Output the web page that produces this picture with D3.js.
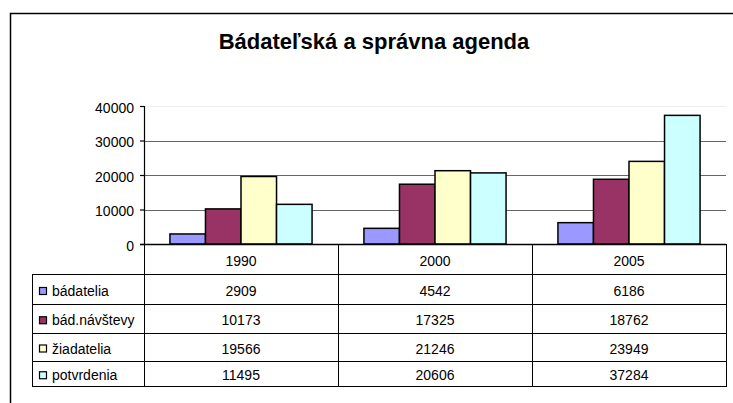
<!DOCTYPE html>
<html>
<head>
<meta charset="utf-8">
<script src="https://cdn.jsdelivr.net/npm/d3@7"></script>
<style>
  body { margin: 0; background: #fff; }
  svg { display: block; font-family: "Liberation Sans", Arial, sans-serif; }
</style>
</head>
<body>
<svg id="chart" width="733" height="403"></svg>
<script>
// chart data
const years = ["1990", "2000", "2005"];
const seriesNames = ["bádatelia", "bád.návštevy", "žiadatelia", "potvrdenia"];
const badatelia = [2909, 4542, 6186];
const badNavstevy = [10173, 17325, 18762];
const ziadatelia = [19566, 21246, 23949];
const potvrdenia = [11495, 20606, 37284];
const yTicks = [0, 10000, 20000, 30000, 40000];

const seriesValues = [badatelia, badNavstevy, ziadatelia, potvrdenia];
const colors = ["#9999ff", "#993366", "#ffffcc", "#ccffff"];

const svg = d3.select("#chart");

// outer chart frame (right and bottom edges fall outside the picture)
svg.append("rect")
  .attr("x", 10.5).attr("y", 13.5)
  .attr("width", 800).attr("height", 500)
  .attr("fill", "#fff")
  .attr("stroke", "#000").attr("stroke-width", 1.5);

svg.append("text")
  .attr("x", 374).attr("y", 49)
  .attr("text-anchor", "middle")
  .attr("font-size", 22).attr("font-weight", "bold")
  .text("Bádateľská a správna agenda");

const plotLeft = 144, plotRight = 726, plotTop = 106, plotBottom = 244;

const y = d3.scaleLinear().domain([0, 40000]).range([plotBottom, plotTop]);
const x0 = d3.scaleBand().domain(years).range([plotLeft, plotRight]);
const x1 = d3.scaleBand().domain(d3.range(seriesNames.length))
  .range([0, x0.bandwidth()]).paddingInner(0).paddingOuter(0.73);

// gridlines
svg.append("g").selectAll("line")
  .data(yTicks.filter(d => d > 0))
  .join("line")
  .attr("x1", plotLeft).attr("x2", plotRight)
  .attr("y1", d => Math.round(y(d)) + 0.5).attr("y2", d => Math.round(y(d)) + 0.5)
  .attr("stroke", d => d === 40000 ? "#eeeeee" : "#666")
  .attr("stroke-width", 1.2);

// y axis
const yAxis = svg.append("g")
  .attr("transform", `translate(${plotLeft},0)`)
  .call(d3.axisLeft(y).tickValues(yTicks).tickSize(4).tickPadding(6).tickFormat(d3.format("d")));
yAxis.select(".domain").attr("stroke", "#000").attr("stroke-width", 1.2);
yAxis.selectAll(".tick line").attr("stroke", "#000").attr("stroke-width", 1.2);
yAxis.selectAll(".tick text")
  .attr("font-size", 14).attr("font-family", "Liberation Sans, Arial, sans-serif")
  .attr("fill", "#000").attr("dy", "0.43em");

// bars
const groups = svg.append("g").selectAll("g")
  .data(seriesNames)
  .join("g")
  .attr("fill", (d, i) => colors[i]);

groups.selectAll("rect")
  .data((d, i) => years.map((yr, j) => ({ yr, s: i, v: seriesValues[i][j] })))
  .join("rect")
  .attr("x", d => x0(d.yr) + x1(d.s))
  .attr("y", d => y(d.v))
  .attr("width", x1.bandwidth())
  .attr("height", d => y(0) - y(d.v))
  .attr("stroke", "#000").attr("stroke-width", 1.5);

// data table
const rowEdges = [244, 274, 304, 332.5, 360.5, 386];
const tableLeft = 32;
const t = svg.append("g").attr("stroke", "#000").attr("stroke-width", 1);

// horizontal rules
t.selectAll("line.h")
  .data(rowEdges.slice(1))
  .join("line")
  .attr("class", "h")
  .attr("x1", tableLeft).attr("x2", plotRight)
  .attr("y1", d => Math.round(d) + 0.5).attr("y2", d => Math.round(d) + 0.5);

// vertical rules
const vLines = years.map(d => x0(d)).concat([plotRight]);
t.selectAll("line.v")
  .data(vLines)
  .join("line")
  .attr("class", "v")
  .attr("x1", d => Math.round(d) + 0.5).attr("x2", d => Math.round(d) + 0.5)
  .attr("y1", plotBottom).attr("y2", 387);
t.append("line")
  .attr("x1", tableLeft + 0.5).attr("x2", tableLeft + 0.5)
  .attr("y1", 274).attr("y2", 387);

// x axis line
svg.append("line")
  .attr("x1", plotLeft - 4).attr("x2", plotRight)
  .attr("y1", plotBottom + 0.5).attr("y2", plotBottom + 0.5)
  .attr("stroke", "#000").attr("stroke-width", 1.5);

const rowBase = i => (rowEdges[i] + rowEdges[i + 1]) / 2 + 7;

// header with years
svg.append("g").selectAll("text")
  .data(years)
  .join("text")
  .attr("x", d => x0(d) + x0.bandwidth() / 2)
  .attr("y", rowBase(0))
  .attr("text-anchor", "middle")
  .attr("font-size", 14)
  .text(d => d);

// legend keys, labels and values
seriesNames.forEach((name, i) => {
  const by = rowBase(i + 1);
  svg.append("rect")
    .attr("x", 39.5).attr("y", by - 8.5)
    .attr("width", 7).attr("height", 7)
    .attr("fill", colors[i])
    .attr("stroke", "#000").attr("stroke-width", 1.2);
  svg.append("text")
    .attr("x", 52).attr("y", by)
    .attr("font-size", 14)
    .text(name);
  svg.append("g").selectAll("text")
    .data(seriesValues[i])
    .join("text")
    .attr("x", (d, j) => x0(years[j]) + x0.bandwidth() / 2)
    .attr("y", by)
    .attr("text-anchor", "middle")
    .attr("font-size", 14)
    .text(d => d);
});
</script>
</body>
</html>
